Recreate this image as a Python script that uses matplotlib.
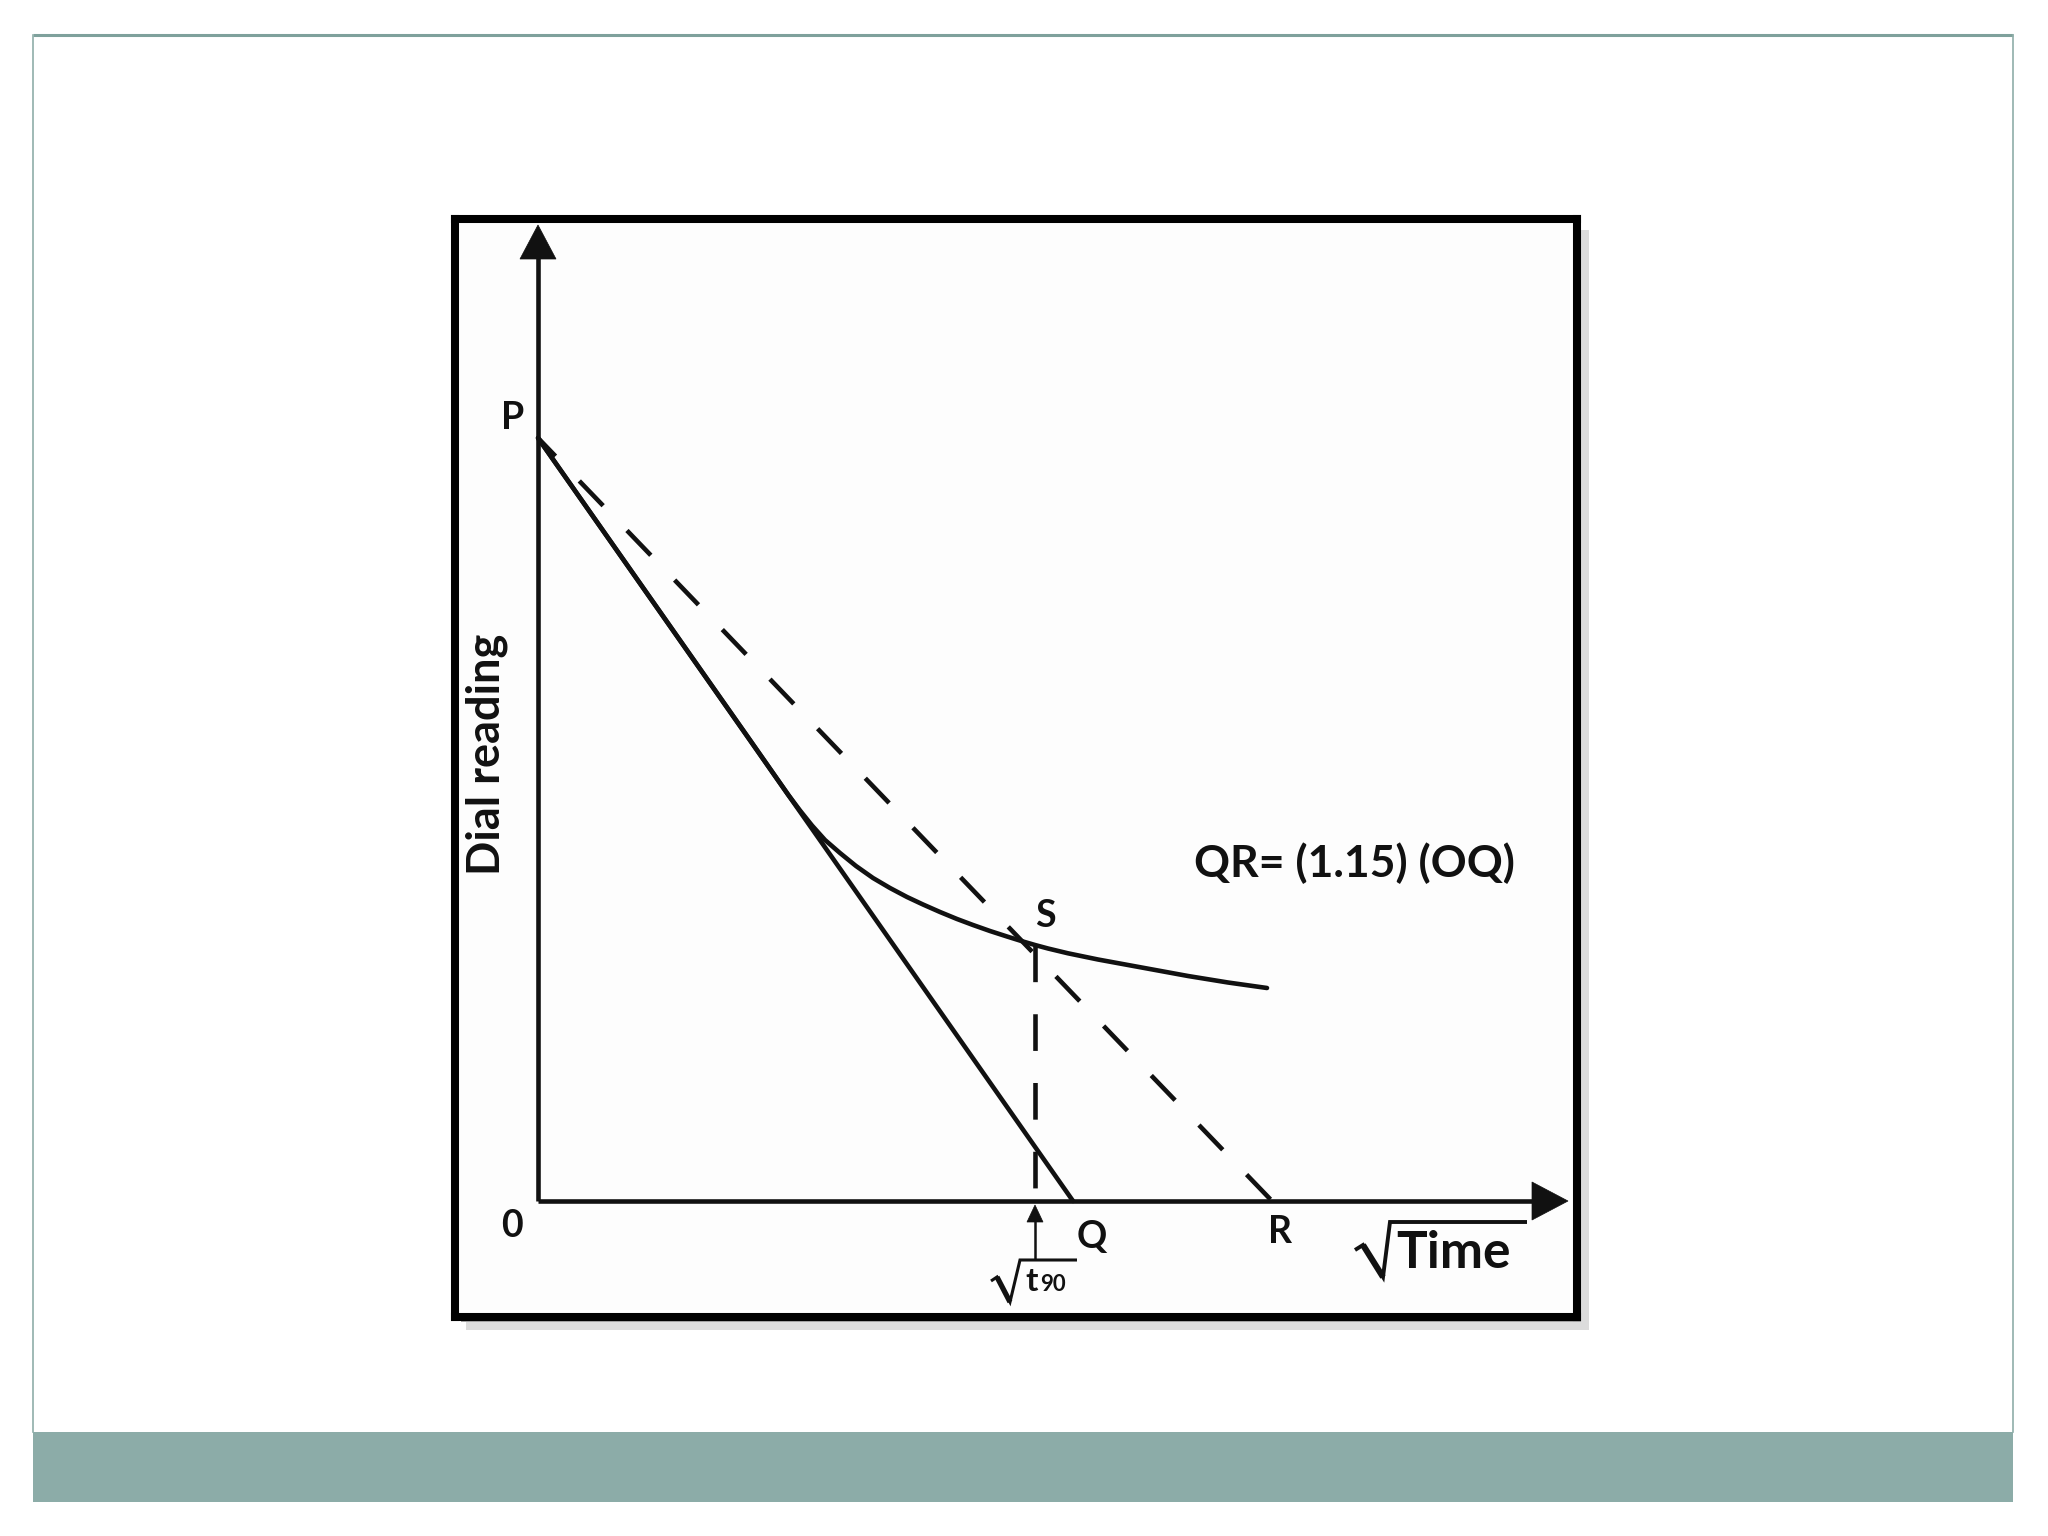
import matplotlib
matplotlib.use("Agg")
import matplotlib.pyplot as plt
from matplotlib.patches import Rectangle, Polygon

# ---------------- data (diagram units: sqrt(time) vs dial reading) ----------------
P_y = 7.63          # intercept of corrected zero on dial-reading axis
Q_x = 5.35          # tangent line meets sqrt(time) axis
R_x = 7.34          # 1.15-slope line meets sqrt(time) axis
S_x = 4.97          # sqrt(t90)
S_y = 2.56          # curve reading at S

curve_x = [0.00, 2.12, 2.35, 2.50, 2.62, 2.74, 2.87, 3.02, 3.18, 3.35, 3.52,
           3.69, 3.85, 4.02, 4.19, 4.35, 4.52, 4.69, 4.85, 4.97, 5.10, 5.30,
           5.60, 5.90, 6.20, 6.50, 6.90, 7.29]
curve_y = [7.63, 4.61, 4.28, 4.065, 3.905, 3.755, 3.61, 3.48, 3.35, 3.23, 3.13,
           3.04, 2.965, 2.89, 2.82, 2.76, 2.70, 2.645, 2.595, 2.56, 2.525, 2.477,
           2.415, 2.36, 2.305, 2.25, 2.185, 2.13]

x_axis_end = 10.30
y_axis_end = 9.76

point_labels = ["P", "Q", "R", "S"]
origin_label = "0"
equation_text = "QR= (1.15) (OQ)"
x_label = "Time"
y_label = "Dial reading"
t_label = "t"
t_sub = "90"

FONT = ["Lato", "DejaVu Sans"]
INK = "#111111"

# ---------------- figure ----------------
W, H = 2048, 1536
fig = plt.figure(figsize=(20.48, 15.36), dpi=100)
fig.patch.set_facecolor("white")

# slide decoration (pixel space)
bg = fig.add_axes([0, 0, 1, 1], zorder=0)
bg.set_xlim(0, W)
bg.set_ylim(H, 0)
bg.axis("off")
bg.add_patch(Rectangle((33, 1432), 1980, 70, facecolor="#8CACA8", edgecolor="none"))
bg.plot([33, 2013], [35, 35], color="#7FA19C", lw=2.2, solid_capstyle="butt")
bg.plot([33, 33], [35, 1432], color="#8FAEA9", lw=1.2)
bg.plot([2013, 2013], [35, 1432], color="#8FAEA9", lw=1.2)
# frame shadow
bg.add_patch(Rectangle((466, 230), 1123, 1100, facecolor="#dcdcdc", edgecolor="none"))
bg.add_patch(Rectangle((461, 225), 1120, 1097, facecolor="#a6a6a6", edgecolor="none"))

# diagram axes: origin O at pixel (538, 1201), 100 px per unit
fl, fr, ft, fb = 455, 1577, 219, 1317
ax = fig.add_axes([fl / W, 1 - fb / H, (fr - fl) / W, (fb - ft) / H], zorder=2)
ax.set_xlim((fl - 538) / 100, (fr - 538) / 100)
ax.set_ylim((1201 - fb) / 100, (1201 - ft) / 100)
ax.set_facecolor("#fdfdfd")
ax.set_xticks([])
ax.set_yticks([])
for sp in ax.spines.values():
    sp.set_linewidth(5.8)
    sp.set_color("black")

LW = 3.3
# axes with arrowheads
ax.plot([0, 0], [0, y_axis_end - 0.3], color=INK, lw=LW, solid_capstyle="butt")
ax.plot([0, x_axis_end - 0.3], [0, 0], color=INK, lw=LW, solid_capstyle="butt")
ax.add_patch(Polygon([[0, y_axis_end], [-0.18, y_axis_end - 0.34], [0.18, y_axis_end - 0.34]],
                     closed=True, facecolor=INK, edgecolor=INK, lw=0.5))
ax.add_patch(Polygon([[x_axis_end, 0], [x_axis_end - 0.36, 0.19], [x_axis_end - 0.36, -0.19]],
                     closed=True, facecolor=INK, edgecolor=INK, lw=0.5))

# tangent line P-Q
ax.plot([0, Q_x], [P_y, 0], color=INK, lw=LW, solid_capstyle="round")
# experimental curve
ax.plot(curve_x, curve_y, color=INK, lw=LW, solid_capstyle="round", solid_joinstyle="round")
# dashed line P-R
ax.plot([0, R_x], [P_y, 0], color=INK, lw=LW, linestyle=(2, (7.5, 7.5)), dash_capstyle="butt")
# vertical dashed from S to axis
ax.plot([S_x, S_x], [S_y, 0], color=INK, lw=LW, linestyle=(0, (8, 7)), dash_capstyle="butt")

# small arrow pointing to sqrt(t90)
ax.plot([S_x, S_x], [-0.59, -0.18], color=INK, lw=1.8, solid_capstyle="butt")
ax.add_patch(Polygon([[S_x, -0.04], [S_x - 0.08, -0.21], [S_x + 0.08, -0.21]],
                     closed=True, facecolor=INK, edgecolor=INK, lw=0.5))

# radical for sqrt(t90)
ax.plot([4.53, 4.59, 4.72, 4.82, 5.39], [-0.80, -0.76, -1.01, -0.59, -0.59],
        color=INK, lw=2.2, solid_joinstyle="miter", solid_capstyle="butt")
ax.plot([4.59, 4.72], [-0.76, -1.01], color=INK, lw=3.8, solid_capstyle="butt")
ax.text(4.87, -0.90, t_label, fontsize=24, fontweight="bold", family=FONT,
        color=INK, ha="left", va="baseline")
ax.text(5.02, -0.90, t_sub, fontsize=16, fontweight="bold", family=FONT,
        color=INK, ha="left", va="baseline")

# radical for sqrt(Time)
ax.plot([8.17, 8.25, 8.45, 8.52, 9.89], [-0.49, -0.44, -0.76, -0.21, -0.21],
        color=INK, lw=2.8, solid_joinstyle="miter", solid_capstyle="butt")
ax.plot([8.25, 8.45], [-0.44, -0.76], color=INK, lw=4.4, solid_capstyle="butt")
ax.text(8.58, -0.67, x_label, fontsize=37, fontweight="bold", family=FONT,
        color=INK, ha="left", va="baseline")

# point labels
lbl_kw = dict(fontsize=27, fontweight="bold", family=FONT, color=INK,
              ha="center", va="center")
ax.text(-0.25, 7.83, point_labels[0], **lbl_kw)
ax.text(Q_x + 0.19, -0.36, point_labels[1], **lbl_kw)
ax.text(R_x + 0.08, -0.31, point_labels[2], **lbl_kw)
ax.text(S_x + 0.10, 2.85, point_labels[3], **lbl_kw)
ax.text(-0.26, -0.25, origin_label, **lbl_kw)

# equation
ax.text(8.16, 3.24, equation_text, fontsize=32, fontweight="bold", family=FONT,
        color=INK, ha="center", va="baseline")

# y label
ax.text(-0.51, 4.47, y_label, fontsize=32.5, fontweight="bold", family=FONT,
        color=INK, ha="center", va="center", rotation=90)

fig.savefig("out.png", dpi=100, facecolor="white")
